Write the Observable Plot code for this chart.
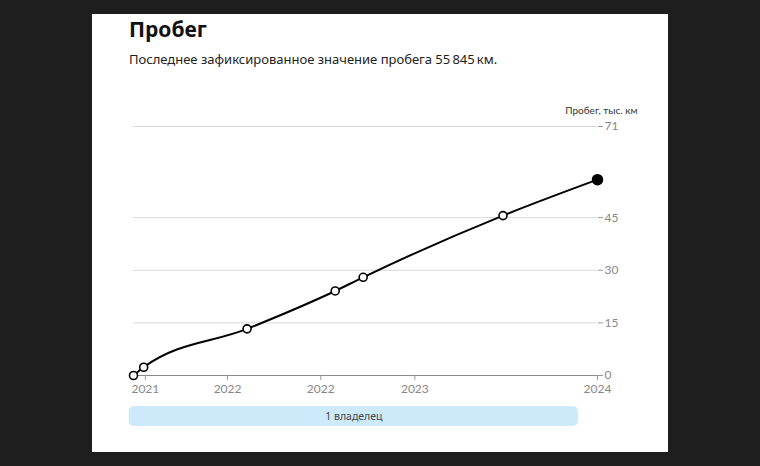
<!DOCTYPE html>
<html><head><meta charset="utf-8">
<script src="https://cdn.jsdelivr.net/npm/d3@7"></script>
<script src="https://cdn.jsdelivr.net/npm/@observablehq/plot@0.6"></script>
<style>
html,body{margin:0;padding:0}
body{background:#1e1e1e;width:760px;height:466px;overflow:hidden;position:relative;font-family:"Noto Sans",sans-serif}
#card{position:absolute;left:92px;top:14px;width:576px;height:438px;background:#fff}
#title{position:absolute;left:37px;top:5px;margin:0;font:700 21px/21px "Noto Sans",sans-serif;color:#111}
#sub{position:absolute;left:37px;top:39px;margin:0;font:400 13px/13px "Noto Sans",sans-serif;color:#222}
#chart{position:absolute;left:0;top:86px}
#owners{position:absolute;left:0;top:390px}
</style></head>
<body>
<div id="card">
  <div id="title">Пробег</div>
  <div id="sub">Последнее зафиксированное значение пробега 55&#8201;845&#8201;км.</div>
  <div id="chart"></div>
  <div id="owners"></div>
</div>
<script>
// data
const dates = ["2021-01-01","2021-01-25","2021-09-26","2022-04-22","2022-06-27","2023-05-23","2024-01-01"];
const mileage = [0, 2.35, 13.3, 24.1, 28.0, 45.6, 55.845];
const xTickDates = ["2021-01-29","2021-08-11","2022-03-19","2022-10-27","2024-01-01"];
const xTickLabels = ["2021","2022","2022","2023","2024"];
const yTicks = [0, 15, 30, 45, 71];
const yLabel = "Пробег, тыс. км";
const ownerStart = ["2020-12-22"];
const ownerEnd = ["2023-11-17"];
const ownerLabels = ["1 владелец"];

const parse = d3.utcParse("%Y-%m-%d");
const data = dates.map((d, i) => ({date: parse(d), value: mileage[i]}));
const last = data[data.length - 1];
const xDomain = [parse(dates[0]), parse(dates[dates.length - 1])];

const W = 576, ML = 41, MR = 71;

const chart = Plot.plot({
  width: W, height: 310,
  marginLeft: ML, marginRight: MR, marginTop: 26, marginBottom: 35,
  style: {fontFamily: "Lato, 'Noto Sans', sans-serif", fontSize: "12px", color: "#888", background: "transparent"},
  x: {type: "utc", domain: xDomain},
  y: {domain: [0, 71]},
  marks: [
    Plot.gridY(yTicks.slice(1), {stroke: "#d9d9d9", strokeOpacity: 1, strokeWidth: 1, x1: xDomain[0], x2: xDomain[1]}),
    Plot.ruleY([0], {stroke: "#8a8a8a", strokeWidth: 1}),
    Plot.axisY(yTicks, {anchor: "right", tickSize: 5, tickPadding: 2, label: null, stroke: "#999", fill: "#888", fontSize: 12}),
    Plot.axisX(xTickDates.map(parse), {anchor: "bottom", tickSize: 5, tickPadding: 3.5, label: null, stroke: "#999", fill: "#888", fontSize: 12,
      tickFormat: (d, i) => xTickLabels[i]}),
    Plot.text([yLabel], {frameAnchor: "top-right", dx: 40, dy: -13, textAnchor: "end", lineAnchor: "bottom", fill: "#333", fontSize: 10}),
    Plot.line(data, {x: "date", y: "value", stroke: "#000", strokeWidth: 2, curve: "monotone-x"}),
    Plot.dot(data.slice(0, -1), {x: "date", y: "value", r: 4, fill: "#fff", stroke: "#000", strokeWidth: 1.6}),
    Plot.dot([last], {x: "date", y: "value", r: 5, fill: "#000", stroke: "#000"})
  ]
});
document.getElementById("chart").appendChild(chart);

const owners = ownerLabels.map((l, i) => ({start: parse(ownerStart[i]), end: parse(ownerEnd[i]), label: l}));
const ownerPlot = Plot.plot({
  width: W, height: 24,
  marginLeft: ML, marginRight: MR, marginTop: 2, marginBottom: 2,
  style: {fontFamily: "'Noto Sans', sans-serif", background: "transparent"},
  x: {type: "utc", domain: xDomain, axis: null},
  y: {axis: null},
  marks: [
    Plot.rectX(owners, {x1: "start", x2: "end", fill: "#cdeafb", rx: 5}),
    Plot.text(owners, {x: d => new Date((+d.start + +d.end) / 2), text: "label", fill: "#444", fontSize: 10.5, frameAnchor: "middle"})
  ]
});
document.getElementById("owners").appendChild(ownerPlot);
</script>
</body></html>
